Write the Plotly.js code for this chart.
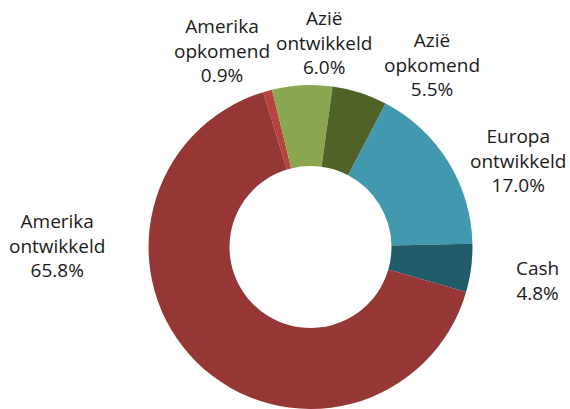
<!DOCTYPE html>
<html>
<head>
<meta charset="utf-8">
<script src="https://cdn.plot.ly/plotly-3.0.1.min.js"></script>
<style>html,body{margin:0;padding:0;background:#fff;}#chart{width:570px;height:409px;}</style>
</head>
<body>
<div id="chart"></div>
<script>
// Data (clockwise order starting just left of 12 o'clock)
var labels = ["Amerika opkomend", "Azië ontwikkeld", "Azië opkomend", "Europa ontwikkeld", "Cash", "Amerika ontwikkeld"];
var values = [0.9, 6.0, 5.5, 17.0, 4.8, 65.8];
var colors = ["#B5443F", "#8AA64F", "#4F6228", "#4198AF", "#215A68", "#953735"];

// Label anchor positions (pixels in the 570x409 frame), layout only
var labelPos = [[222, 50], [324, 43], [432, 64], [518, 160], [537, 280], [57, 245]];

var W = 570, H = 409;
var total = values.reduce(function (a, b) { return a + b; }, 0);
var annotations = labels.map(function (lab, i) {
  var pct = (values[i] / total * 100).toFixed(1) + '%';
  return {
    text: lab.replace(' ', '<br>') + '<br>' + pct,
    x: labelPos[i][0] / W,
    y: 1 - labelPos[i][1] / H,
    xref: 'paper', yref: 'paper',
    xanchor: 'center', yanchor: 'middle',
    showarrow: false,
    align: 'center',
    font: {family: 'Open Sans, Liberation Sans, Arial, sans-serif', size: 19, color: '#1a1a1a'}
  };
});

var trace = {
  type: 'pie',
  labels: labels,
  values: values,
  marker: {colors: colors, line: {width: 0}},
  hole: 0.5,
  sort: false,
  direction: 'clockwise',
  rotation: -17,
  textinfo: 'none',
  hoverinfo: 'label+percent',
  domain: {x: [0.2588, 0.8307], y: [0, 0.792]},
  showlegend: false
};

var layout = {
  width: W, height: H,
  margin: {l: 0, r: 0, t: 0, b: 0},
  paper_bgcolor: '#fff',
  showlegend: false,
  annotations: annotations
};

Plotly.newPlot('chart', [trace], layout, {displayModeBar: false, staticPlot: true});
</script>
</body>
</html>
